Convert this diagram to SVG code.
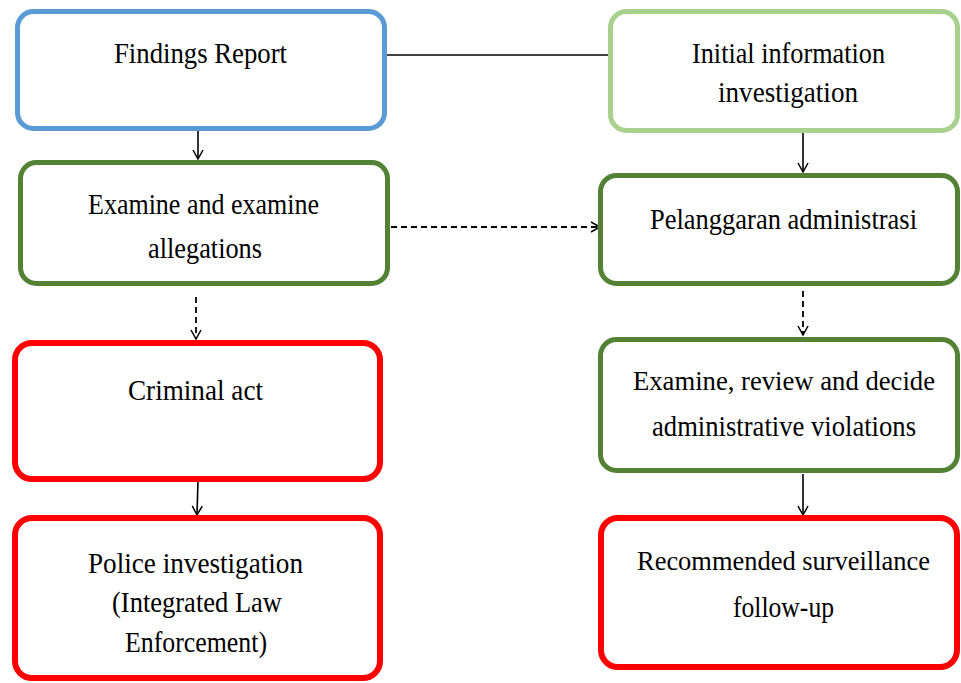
<svg xmlns="http://www.w3.org/2000/svg" width="961" height="683" viewBox="0 0 961 683">
<defs>
<marker id="arr" markerUnits="userSpaceOnUse" markerWidth="14" markerHeight="14" viewBox="-1 -7 12 14" refX="10" refY="0" orient="auto">
<path d="M1,-5 L10,0 L1,5" fill="none" stroke="#000" stroke-width="1.5"/>
</marker>
</defs>
<style>
.box{fill:#fff;stroke-width:5}
.blue{stroke:#5B9BD5}
.lg{stroke:#A9D18E}
.dg{stroke:#548235}
.red{stroke:#FF0000;stroke-width:6}
text{font-family:"Liberation Serif","Times New Roman",serif;font-size:30px;fill:#000;text-anchor:middle}
.w{font-size:28px}
.c{fill:none;stroke:#000;stroke-width:1.6}
.d{stroke-dasharray:6 4;stroke-width:1.8}
</style>
<rect width="961" height="683" fill="#fff"/>
<g id="connectors">
<line class="c" x1="198" y1="128" x2="198" y2="159" marker-end="url(#arr)"/>
<line class="c" x1="387" y1="55" x2="608" y2="55"/>
<line class="c" x1="803" y1="133" x2="803" y2="172" marker-end="url(#arr)"/>
<line class="c d" x1="391" y1="227" x2="600" y2="227" marker-end="url(#arr)"/>
<line class="c d" x1="196" y1="297" x2="196" y2="339" marker-end="url(#arr)"/>
<line class="c d" x1="803" y1="291" x2="803" y2="335" marker-end="url(#arr)"/>
<line class="c" x1="198" y1="480" x2="197" y2="515" marker-end="url(#arr)"/>
<line class="c" x1="803" y1="474" x2="803" y2="515" marker-end="url(#arr)"/>
</g>
<g id="findings-report">
<rect class="box blue" x="17.5" y="11.5" width="367" height="117" rx="16"/>
<text x="200.5" y="63" textLength="173" lengthAdjust="spacingAndGlyphs">Findings Report</text>
</g>
<g id="examine-allegations">
<rect class="box dg" x="20.5" y="162.5" width="367" height="121" rx="16"/>
<text x="203.5" y="214" textLength="231" lengthAdjust="spacingAndGlyphs">Examine and examine</text>
<text x="205" y="258" textLength="114" lengthAdjust="spacingAndGlyphs">allegations</text>
</g>
<g id="initial-information">
<rect class="box lg" x="610.5" y="11.5" width="347" height="119" rx="16"/>
<text x="788.5" y="63" textLength="193" lengthAdjust="spacingAndGlyphs">Initial information</text>
<text x="788" y="102" textLength="140" lengthAdjust="spacingAndGlyphs">investigation</text>
</g>
<g id="pelanggaran-administrasi">
<rect class="box dg" x="600.5" y="175.5" width="357" height="108" rx="16"/>
<text x="783.5" y="229" textLength="267" lengthAdjust="spacingAndGlyphs">Pelanggaran administrasi</text>
</g>
<g id="criminal-act">
<rect class="box red" x="15" y="343" width="365" height="136" rx="17"/>
<text x="195.5" y="400" textLength="135" lengthAdjust="spacingAndGlyphs">Criminal act</text>
</g>
<g id="police-investigation">
<rect class="box red" x="15" y="518" width="365" height="160" rx="17"/>
<text x="195.5" y="573" textLength="215" lengthAdjust="spacingAndGlyphs">Police investigation</text>
<text x="197" y="612" textLength="170" lengthAdjust="spacingAndGlyphs">(Integrated Law</text>
<text x="196" y="652" textLength="142" lengthAdjust="spacingAndGlyphs">Enforcement)</text>
</g>
<g id="examine-review-decide">
<rect class="box dg" x="600.5" y="339.5" width="357" height="131" rx="16"/>
<text class="w" x="784" y="390" textLength="302" lengthAdjust="spacingAndGlyphs">Examine, review and decide</text>
<text x="784" y="436" textLength="264" lengthAdjust="spacingAndGlyphs">administrative violations</text>
</g>
<g id="recommended-follow-up">
<rect class="box red" x="601" y="518" width="356" height="149" rx="17"/>
<text class="w" x="783.5" y="570" textLength="293" lengthAdjust="spacingAndGlyphs">Recommended surveillance</text>
<text x="783.5" y="617" textLength="101" lengthAdjust="spacingAndGlyphs">follow-up</text>
</g>
</svg>
